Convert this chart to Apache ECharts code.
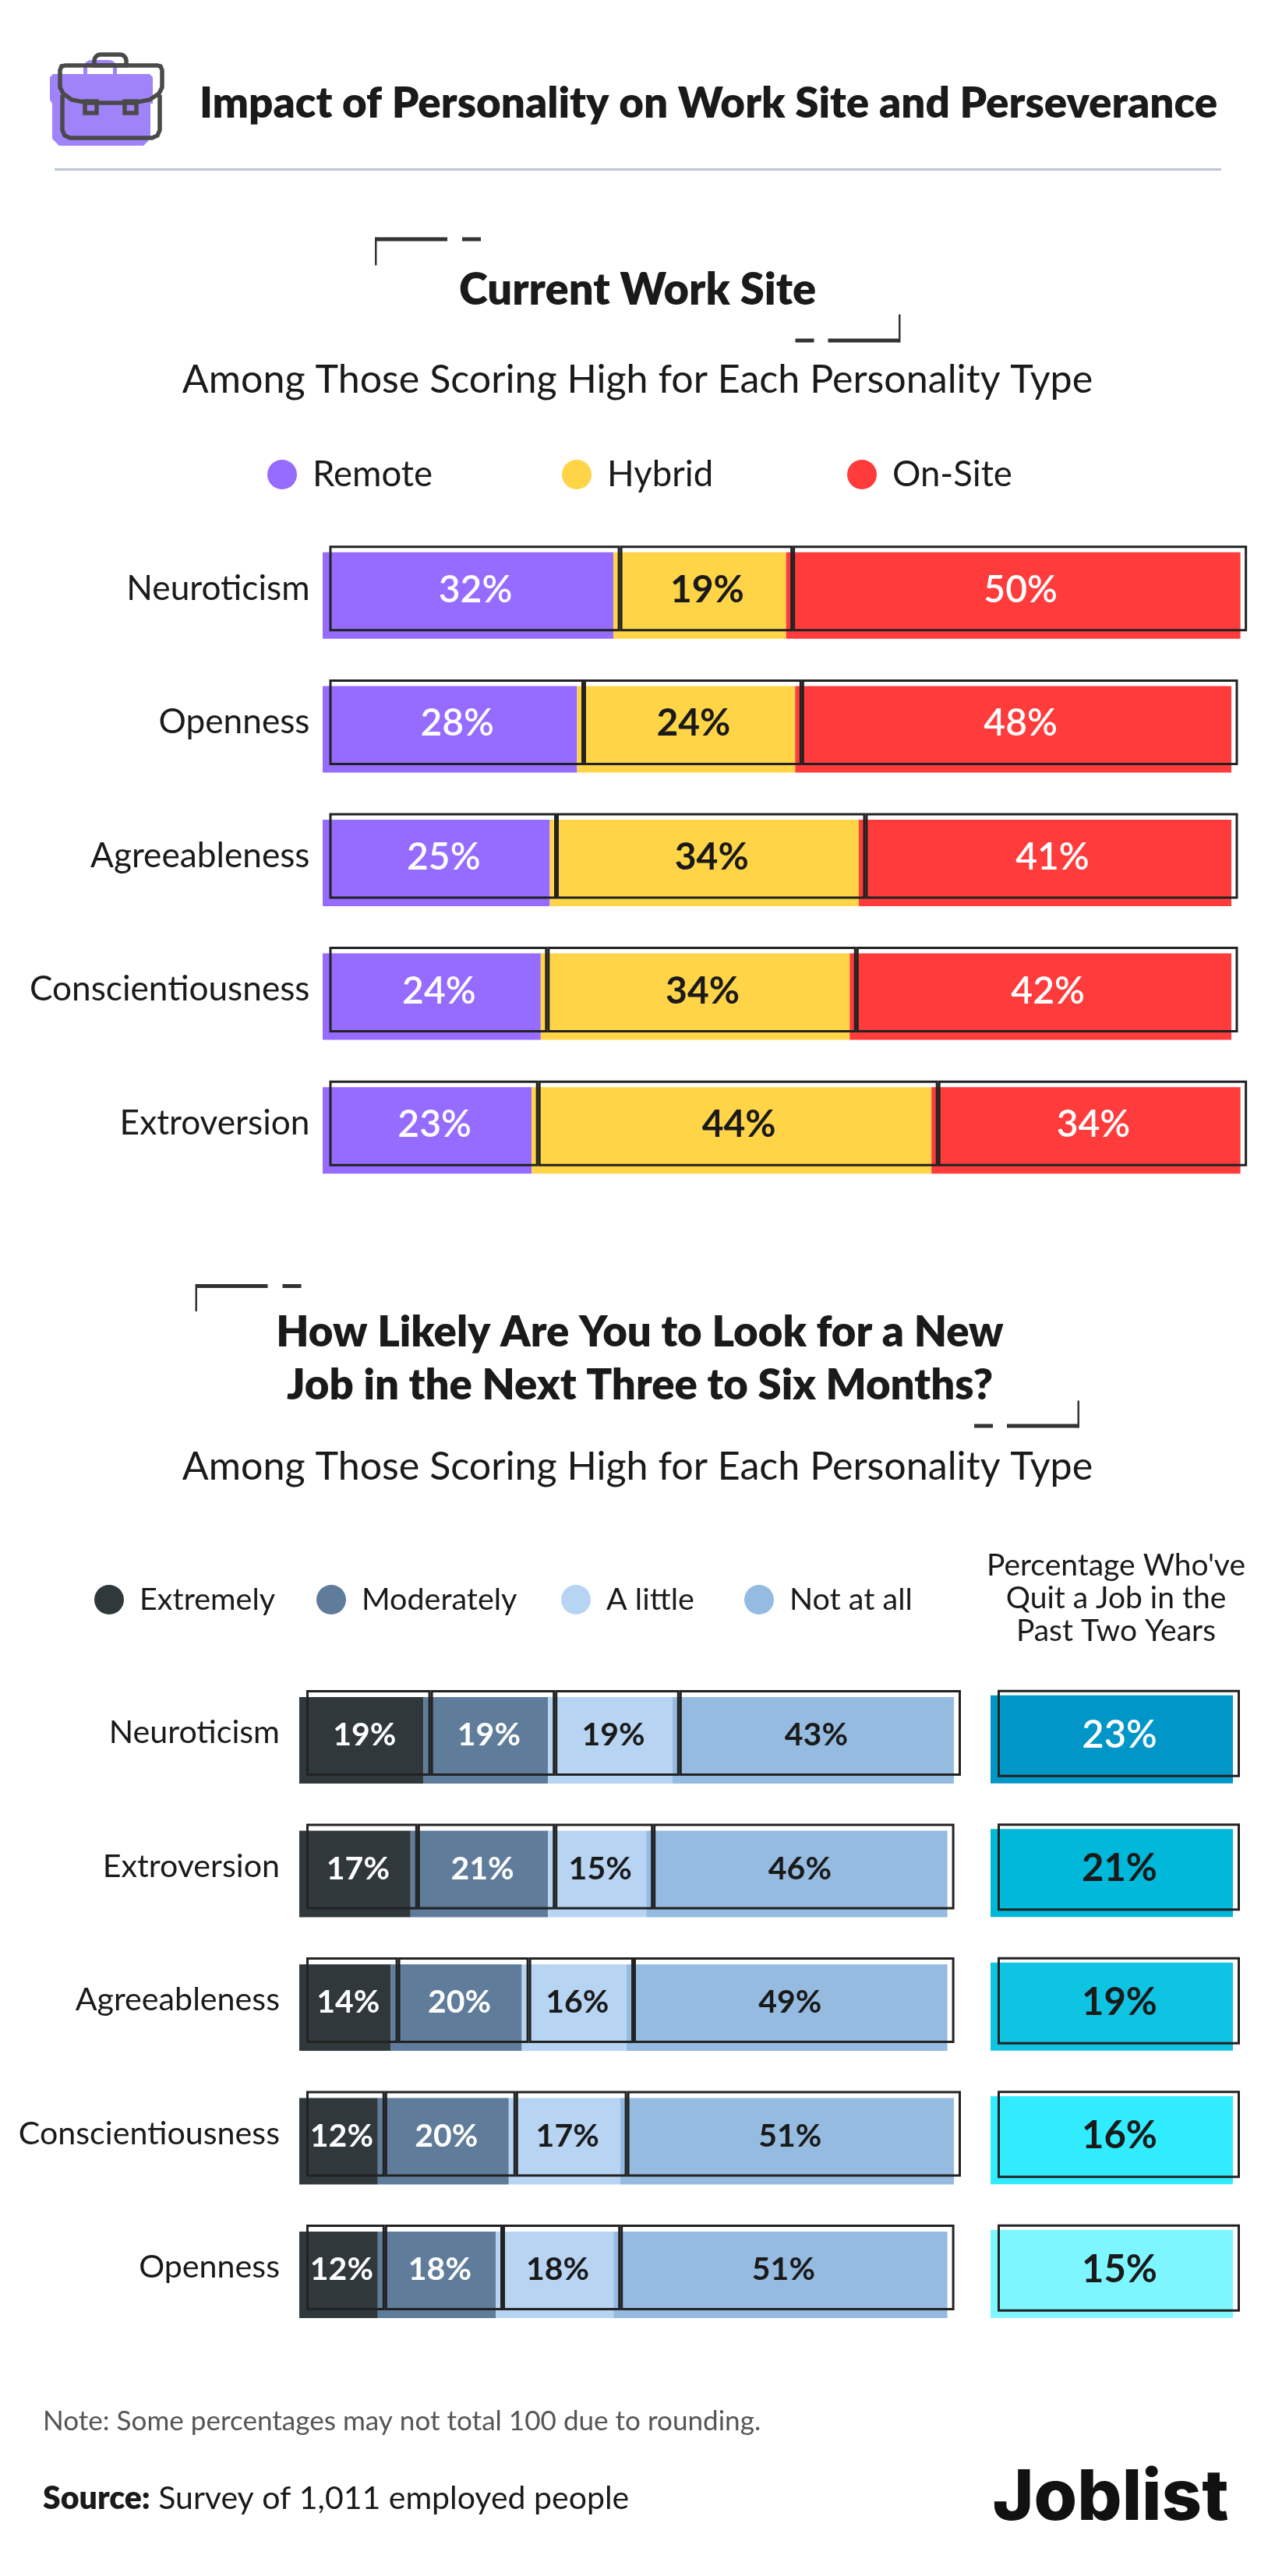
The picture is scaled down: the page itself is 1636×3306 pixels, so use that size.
<!DOCTYPE html>
<html><head><meta charset="utf-8">
<style>html,body{margin:0;padding:0;background:#fff}#c{width:1636px;height:3306px}</style>
<script src="https://cdn.jsdelivr.net/npm/echarts@6/dist/echarts.min.js"></script>
</head><body><div id="c"></div>
<script>
const siteCategories = ['Neuroticism','Openness','Agreeableness','Conscientiousness','Extroversion'];
const siteRemote = [32,28,25,24,23];
const siteHybrid = [19,24,34,34,44];
const siteOnSite = [50,48,41,42,34];
const jobCategories = ['Neuroticism','Extroversion','Agreeableness','Conscientiousness','Openness'];
const jobExtremely = [19,17,14,12,12];
const jobModerately = [19,21,20,20,18];
const jobALittle = [19,15,16,17,18];
const jobNotAtAll = [43,46,49,51,51];
const quitPct = [23,21,19,16,15];
const quitColors = ['#0096C7','#00B8D9','#0FC4E3','#31EBFF','#7DF6FF'];
const quitLabelColors = ['#fff','#1a1a1a','#1a1a1a','#1a1a1a','#1a1a1a'];

const FONT='Lato', INK='#1a1a1a', LINE='#222222';
const grids=[
 {left:414,width:1177.66,top:678.5,height:858},
 {left:422.5,width:1177.66,top:669.5,height:858},
 {left:384,width:840,top:2147.75,height:857.5},
 {left:393,width:840,top:2138.25,height:857.5},
 {left:1271,width:311,top:2146.5,height:857.5},
 {left:1280,width:311,top:2139,height:857.5}
];
const xAxes=grids.map((g,i)=>({gridIndex:i,type:'value',min:0,max:i<2?101:(i<4?100:1),show:false}));
const yAxes=grids.map((g,i)=>({gridIndex:i,type:'category',inverse:true,
  data:i<2?siteCategories:jobCategories,
  axisLine:{show:false},axisTick:{show:false},splitLine:{show:false},
  axisLabel:{show:i===1||i===3,color:INK,fontFamily:FONT,fontSize:i===1?44.2:41.2,margin:i===1?25:34,fontWeight:400}}));
function fill(name,data,color,g,stack,w){
  return {type:'bar',name,data,stack,xAxisIndex:g,yAxisIndex:g,barWidth:w,z:2,
    itemStyle:{color,borderWidth:0},label:{show:false},silent:true,animation:false};
}
function outline(name,data,g,stack,w,size,color,weight,offset){
  return {type:'bar',name,data,stack,xAxisIndex:g,yAxisIndex:g,barWidth:w,z:5,
    itemStyle:{color:'rgba(0,0,0,0)',borderColor:LINE,borderWidth:3},
    label:{show:true,position:'inside',offset,formatter:'{c}%',color,fontFamily:FONT,fontSize:size,fontWeight:weight},
    silent:true,animation:false};
}
const OFF1=[1,2], OFF2=[-5,3];
const series=[
 fill('Remote',siteRemote,'#966BFF',0,'a',111),
 fill('Hybrid',siteHybrid,'#FFD447',0,'a',111),
 fill('On-Site',siteOnSite,'#FF3B3B',0,'a',111),
 outline('Remote outline',siteRemote,1,'b',110,48,'#fff',600,OFF1),
 outline('Hybrid outline',siteHybrid,1,'b',110,48,INK,700,OFF1),
 outline('On-Site outline',siteOnSite,1,'b',110,48,'#fff',600,OFF1),
 fill('Extremely',jobExtremely,'#30383C',2,'c',111),
 fill('Moderately',jobModerately,'#5F7C9B',2,'c',111),
 fill('A little',jobALittle,'#B8D4F3',2,'c',111),
 fill('Not at all',jobNotAtAll,'#95BBE0',2,'c',111),
 outline('Extremely outline',jobExtremely,3,'d',110,41,'#fff',700,OFF2),
 outline('Moderately outline',jobModerately,3,'d',110,41,'#fff',700,OFF2),
 outline('A little outline',jobALittle,3,'d',110,41,INK,700,OFF2),
 outline('Not at all outline',jobNotAtAll,3,'d',110,41,INK,700,OFF2),
 {type:'bar',name:'Quit',xAxisIndex:4,yAxisIndex:4,barWidth:113,z:2,silent:true,animation:false,
  data:quitPct.map((p,i)=>({value:1,itemStyle:{color:quitColors[i]}}))},
 {type:'bar',name:'Quit outline',xAxisIndex:5,yAxisIndex:5,barWidth:112,z:5,silent:true,animation:false,
  itemStyle:{color:'rgba(0,0,0,0)',borderColor:LINE,borderWidth:3},
  data:quitPct.map((p,i)=>({value:1,label:{show:true,position:'inside',offset:[1,2],formatter:p+'%',color:quitLabelColors[i],
    fontFamily:FONT,fontSize:49,fontWeight:i===0?600:700}}))}
];
function leg(name,cx,cy,size){
  return {show:true,data:[name],left:cx-19,top:cy-19,padding:0,itemWidth:38,itemHeight:38,icon:'circle',selectedMode:false,
    itemStyle:{borderWidth:0},
    textStyle:{fontFamily:FONT,fontSize:size,color:INK,padding:[0,0,0,15]}};
}
const legends=[
 leg('Remote',362,605,45.5),leg('Hybrid',740,605,45.5),leg('On-Site',1106,605,45.5),
 leg('Extremely',140,2052,39.5),leg('Moderately',425,2052,39.5),leg('A little',739,2052,39.5),leg('Not at all',974,2052,39.5)
];
function T(text,x,y,size,weight,align,color,family){
  return {type:'text',z:10,silent:true,style:{text,x,y,fontFamily:family||FONT,fontSize:size,fontWeight:weight,
    textAlign:align||'center',textVerticalAlign:'middle',fill:color||INK}};
}
function R(x,y,w,h,c,r){return {type:'rect',z:10,silent:true,shape:{x,y,width:w,height:h,r:r||0},style:{fill:c||'#333'}};}
function corners(x1,y1,v1,x2,y2,v2){
  return [R(x1,y1-2.5,92,5),R(x1+111,y1-2.5,24,5),R(x1-1,y1-2.5,2.5,v1),
          R(x2-92,y2-2.5,92,5),R(x2-134,y2-2.5,24,5),R(x2-1.5,y2-v2+2.5,2.5,v2)];
}
const PURPLE='#A183F9', IC='#4A4A4A';
const stroke={fill:'none',stroke:IC,lineWidth:5.5};
const icon=[
 R(107,77,43,30,PURPLE,[10,10,0,0]),
 {type:'polygon',z:9,silent:true,shape:{points:[[68,95],[192,95],[196,99],[196,133],[193,133],[193,178],[184,187],[76,187],[67,178],[67,133],[64,128],[64,99]]},style:{fill:PURPLE}},
 R(112,86,33,9,'#fff'),
 {type:'rect',z:10,silent:true,shape:{x:121,y:70,width:41,height:14,r:[8,8,0,0]},style:stroke},
 {type:'polygon',z:10,silent:true,shape:{points:[[84,84],[202,84],[206,85],[208,90],[208,112],[204,120],[192,128],[172,132],[112,132],[92,128],[81,120],[77,112],[77,90],[79,85]]},style:stroke},
 {type:'polyline',z:10,silent:true,shape:{points:[[80,122],[80,167],[83,174],[90,177],[195,177],[202,174],[205,167],[205,122]]},style:stroke},
 {type:'rect',z:10,silent:true,shape:{x:109,y:130,width:15,height:15},style:stroke},
 {type:'rect',z:10,silent:true,shape:{x:160,y:130,width:15,height:15},style:stroke}
];
const graphic=[
 ...icon,
 T('Impact of Personality on Work Site and Perseverance',909,133,54.7,800),
 R(70,216,1497,3,'#BCC5D3'),
 ...corners(482,307,36,1154.5,437,36),
 T('Current Work Site',818,373,56,800),
 T('Among Those Scoring High for Each Personality Type',818,488,50.2,400),
 ...corners(251.5,1650.5,35,1384,1830,35),
 T('How Likely Are You to Look for a New',821,1710,54.5,800),
 T('Job in the Next Three to Six Months?',821,1778,54.5,800),
 T('Among Those Scoring High for Each Personality Type',818,1883,50.2,400),
 T("Percentage Who've",1432,2009,39,400),
 T('Quit a Job in the',1432,2051,39,400),
 T('Past Two Years',1432,2093,39,400),
 T('Note: Some percentages may not total 100 due to rounding.',55,3108,35.1,400,'left','#555'),
 {type:'text',z:10,silent:true,style:{text:'{b|Source:} Survey of 1,011 employed people',x:55,y:3207,textVerticalAlign:'middle',
   fontFamily:FONT,fontSize:41,fill:INK,rich:{b:{fontFamily:FONT,fontSize:41,fontWeight:800,fill:INK}}}},
 T('Joblist',1425,3207,90,800,'center','#111','Inter')
];
const chart=echarts.init(document.getElementById('c'),null,{renderer:'canvas',width:1636,height:3306});
chart.setOption({animation:false,backgroundColor:'#fff',tooltip:{show:false},grid:grids,xAxis:xAxes,yAxis:yAxes,legend:legends,series,graphic});
</script></body></html>
